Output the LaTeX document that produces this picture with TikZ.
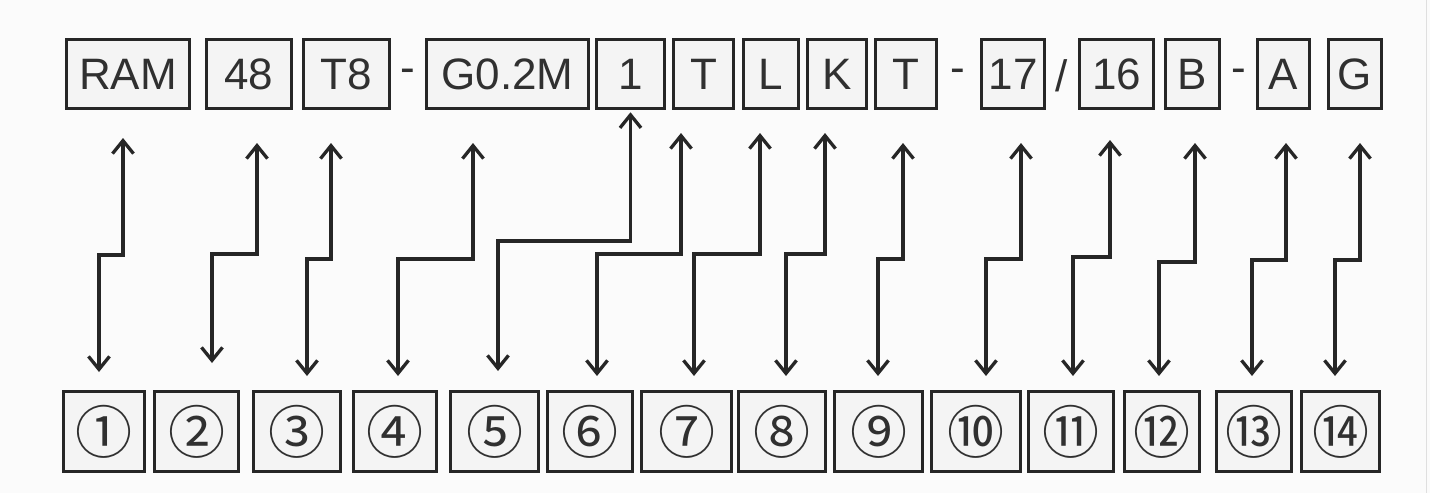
\documentclass[tikz,border=0pt]{standalone}
\usepackage{fontspec}
\setmainfont{Liberation Sans}
\newfontfamily\cjk{Noto Sans CJK SC}
\usetikzlibrary{arrows.meta}
\definecolor{ink}{HTML}{262626}
\definecolor{txt}{HTML}{303030}
\definecolor{bg}{HTML}{FBFBFB}
\definecolor{boxfill}{HTML}{F4F4F4}
\begin{document}
\begin{tikzpicture}[x=1pt,y=-1pt,
  >={Straight Barb[length=13pt,width=21pt]},
  codebox/.style={draw=ink, line width=3.5pt, fill=boxfill, minimum height=69pt, inner sep=0pt, text=txt, font=\fontsize{44}{48}\selectfont},
  numbox/.style={draw=ink, line width=3.5pt, fill=boxfill, minimum height=80pt, inner sep=0pt, text=txt, font=\cjk\fontsize{57}{61}\selectfont},
  sepmark/.style={text=txt, font=\fontsize{44}{48}\selectfont, inner sep=0pt},
  conn/.style={draw=ink, line width=3.3pt, <->}
]
\fill[bg] (0,0) rectangle (1430,493);
\useasboundingbox (0,0) rectangle (1430,493);
\draw[gray!25, line width=1pt] (1426,0) -- (1426,493);
% top code boxes
\foreach \i/\cx/\w/\t in {1/128/123/RAM, 2/249/85/48, 3/346.5/86/T8, 4/507.5/162/G0.2M,
  5/630.5/68/1, 6/703.5/60/T, 7/771/55/L, 8/837/59/K, 9/906/61/T, 10/1013/63/17,
  11/1116.5/74/16, 12/1192.5/54/B, 13/1283.5/52/A, 14/1355/53/G}
  \node[codebox, minimum width=\w pt] (t\i) at (\cx,74) {\t};
% separators
\node[sepmark] (s1) at (408,76) {-};
\node[sepmark] (s2) at (958,76) {-};
\node[sepmark] (s3) at (1062,76) {/};
\node[sepmark] (s4) at (1239,76) {-};
% bottom number boxes
\foreach \i/\cx/\w/\t in {1/104/81/①, 2/196.5/84/②, 3/297/87/③, 4/395/83/④, 5/494.5/88/⑤,
  6/590/85/⑥, 7/686.5/90/⑦, 8/782/87/⑧, 9/878.5/88/⑨, 10/976/89/⑩, 11/1071/85/⑪,
  12/1162/75/⑫, 13/1254/75/⑬, 14/1340.5/78/⑭}
  \node[numbox, minimum width=\w pt] (b\i) at (\cx,431.5) {\t};
% connectors
\foreach \i/\ux/\uy/\jy/\dx/\dy in {1/123/138/255/99/372, 2/257/143/254/212/363,
  3/331/143/259/307/376, 4/473/143/259/398/376, 6/681/133/254/597/376,
  7/760/133/254/694/376, 8/825/133/254/786/376, 9/903/143/259/878/376,
  10/1021/143/259/986/376, 11/1110/140/257/1073/376, 12/1195/143/262/1159/376,
  13/1286/143/260/1252/376, 14/1360/143/260/1335/376} {
  \coordinate (u\i) at (\ux,\uy);
  \coordinate (j\i) at (\dx,\jy);
  \coordinate (d\i) at (\dx,\dy);
  \draw[conn] (u\i) |- (j\i) -- (d\i);
}
\coordinate (j5) at (498,241);
\coordinate (d5) at (498,371);
\draw[conn] ([yshift=-2pt]t5.south) |- (j5) -- (d5);
\end{tikzpicture}
\end{document}
